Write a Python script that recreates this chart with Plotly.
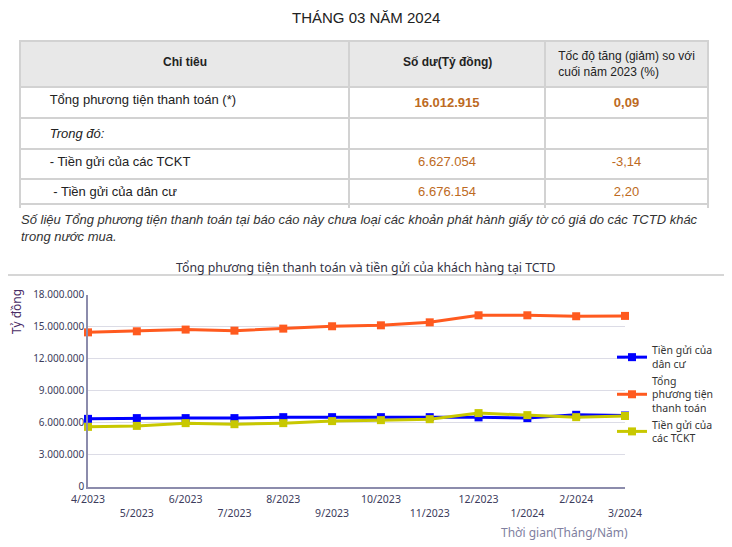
import plotly.graph_objects as go

# page body has an 8px margin, so the figure is sized to fill the rest of the window
OFF = 8
W, H = 732 - OFF, 547 - OFF

# ---------------- data ----------------
report_title = "THÁNG 03 NĂM 2024"
header_col1 = "Chỉ tiêu"
header_col2 = "Số dư(Tỷ đồng)"
header_col3 = "Tốc độ tăng (giảm) so với<br>cuối năm 2023 (%)"
row_labels = ["Tổng phương tiện thanh toán (*)", "<i>Trong đó:</i>", "- Tiền gửi của các TCKT", " - Tiền gửi của dân cư"]
row_balance = ["<b>16.012.915</b>", "", "6.627.054", "6.676.154"]
row_growth = ["<b>0,09</b>", "", "-3,14", "2,20"]
note_text = ("Số liệu Tổng phương tiện thanh toán tại báo cáo này chưa loại các khoản phát hành giấy tờ có giá do các TCTD khác"
             "<br>trong nước mua.")

chart_title = "Tổng phương tiện thanh toán và tiền gửi của khách hàng tại TCTD"
months = ["4/2023", "5/2023", "6/2023", "7/2023", "8/2023", "9/2023",
          "10/2023", "11/2023", "12/2023", "1/2024", "2/2024", "3/2024"]
dan_cu = [6360000, 6430000, 6430000, 6430000, 6520000, 6520000,
          6520000, 6520000, 6500000, 6430000, 6740000, 6676154]
tong_pttt = [14470000, 14570000, 14730000, 14630000, 14820000, 15040000,
             15130000, 15410000, 16070000, 16070000, 15980000, 16012915]
tckt = [5610000, 5700000, 5960000, 5860000, 5960000, 6150000,
        6240000, 6330000, 6900000, 6710000, 6520000, 6627054]
series_names = ["Tiền gửi của<br>dân cư", "Tổng<br>phương tiện<br>thanh toán", "Tiền gửi của<br>các TCKT"]
series_colors = ["#0000ff", "#ff5a1f", "#c8c800"]
y_title = "Tỷ đồng"
x_title = "Thời gian(Tháng/Năm)"
# --------------------------------------

def px(x):
    return (x - OFF) / W

def py(y):
    return 1 - (y - OFF) / H

CHART_FONT = "Noto Sans, DejaVu Sans, sans-serif"
TABLE_FONT = "Liberation Sans, Arial, sans-serif"
pad = "\u00a0" * 6

fig = go.Figure()

# table
label_cells = [pad + t for t in row_labels]
txt_colors = ["#222222"] * 4
val_color = "#bd6a22"
fig.add_trace(go.Table(
    domain=dict(x=[px(20), px(708)], y=[py(208), py(41)]),
    columnwidth=[329, 196, 163],
    header=dict(values=["", "", header_col3],
                fill_color="#e8e8e8",
                line=dict(color="#d2d2d2", width=2),
                align=["center", "center", "center"],
                font=dict(family=TABLE_FONT, size=12, color="#222222"),
                height=42),
    cells=dict(values=[label_cells, row_balance, row_growth],
               fill_color="#ffffff",
               line=dict(color="#d2d2d2", width=2),
               align=["left", "center", "center"],
               font=dict(family=TABLE_FONT, size=13,
                         color=[txt_colors, [val_color] * 4, [val_color] * 4]),
               height=30),
))

# line series
for name, vals, col in zip(series_names, [dan_cu, tong_pttt, tckt], series_colors):
    fig.add_trace(go.Scatter(
        x=months, y=vals, name=name, mode="lines+markers",
        line=dict(color=col, width=3),
        marker=dict(symbol="square", size=8, color=col),
        cliponaxis=False,
    ))

ticktext = [m if i % 2 == 0 else "<br>" + m for i, m in enumerate(months)]

fig.update_layout(
    width=W, height=H,
    margin=dict(l=0, r=0, t=0, b=0, pad=0, autoexpand=False),
    paper_bgcolor="white", plot_bgcolor="white",
    separators=",.",
    font=dict(family=CHART_FONT, size=11, color="#333333"),
    xaxis=dict(domain=[px(88), px(625)], type="category", range=[0, 11],
               tickmode="array", tickvals=months, ticktext=ticktext,
               showgrid=False, showline=True, linecolor="#8c8cac", linewidth=1.5,
               ticks="", automargin=False, ticklabelstandoff=2,
               tickfont=dict(family=CHART_FONT, size=10.5, color="#3c3c5c"),
               fixedrange=True),
    yaxis=dict(domain=[py(486.7), py(294.7)], range=[0, 18000000], dtick=3000000,
               tickformat=",d", showgrid=True, gridcolor="#dcdce6", gridwidth=1,
               showline=True, linecolor="#8c8cac", linewidth=1.5, zeroline=False,
               ticks="", automargin=False,
               tickfont=dict(family=CHART_FONT, size=10, color="#3c3c5c"),
               fixedrange=True),
    legend=dict(x=px(612), y=py(337), xanchor="left", yanchor="top",
                font=dict(family=CHART_FONT, size=10.5, color="#333333"),
                itemwidth=30, tracegroupgap=0, bgcolor="rgba(0,0,0,0)"),
    showlegend=True,
)

annotations = [
    dict(text=report_title, x=px(366), y=py(18), xref="paper", yref="paper",
         showarrow=False, xanchor="center", yanchor="middle",
         font=dict(family=TABLE_FONT, size=15, color="#222222")),
    dict(text="<b>" + header_col1 + "</b>", x=px(184.5), y=py(62), xref="paper", yref="paper",
         showarrow=False, xanchor="center", yanchor="middle",
         font=dict(family=TABLE_FONT, size=12, color="#222222")),
    dict(text="<b>" + header_col2 + "</b>", x=px(447), y=py(62), xref="paper", yref="paper",
         showarrow=False, xanchor="center", yanchor="middle",
         font=dict(family=TABLE_FONT, size=12, color="#222222")),
    dict(text="<i>" + note_text + "</i>", x=px(19), y=py(210), xref="paper", yref="paper",
         showarrow=False, xanchor="left", yanchor="top", align="left",
         font=dict(family=TABLE_FONT, size=13, color="#333333")),
    dict(text=chart_title, x=px(365), y=py(267), xref="paper", yref="paper",
         showarrow=False, xanchor="center", yanchor="middle",
         font=dict(family=CHART_FONT, size=12.3, color="#333344")),
    dict(text=y_title, x=px(16), y=py(312), xref="paper", yref="paper",
         showarrow=False, textangle=-90, xanchor="center", yanchor="middle",
         font=dict(family=CHART_FONT, size=12, color="#4a2d66")),
    dict(text=x_title, x=px(564), y=py(532), xref="paper", yref="paper",
         showarrow=False, xanchor="center", yanchor="middle",
         font=dict(family=CHART_FONT, size=12, color="#8080a0")),
]
fig.update_layout(annotations=annotations)
fig.add_shape(type="line", xref="paper", yref="paper", x0=0, x1=1, y0=py(275), y1=py(275),
              line=dict(color="#d6d6d6", width=2))
# bottom border of the table
fig.add_shape(type="line", xref="paper", yref="paper", x0=px(20), x1=px(708), y0=py(204), y1=py(204),
              line=dict(color="#d2d2d2", width=2))

fig.write_html("out.html")
